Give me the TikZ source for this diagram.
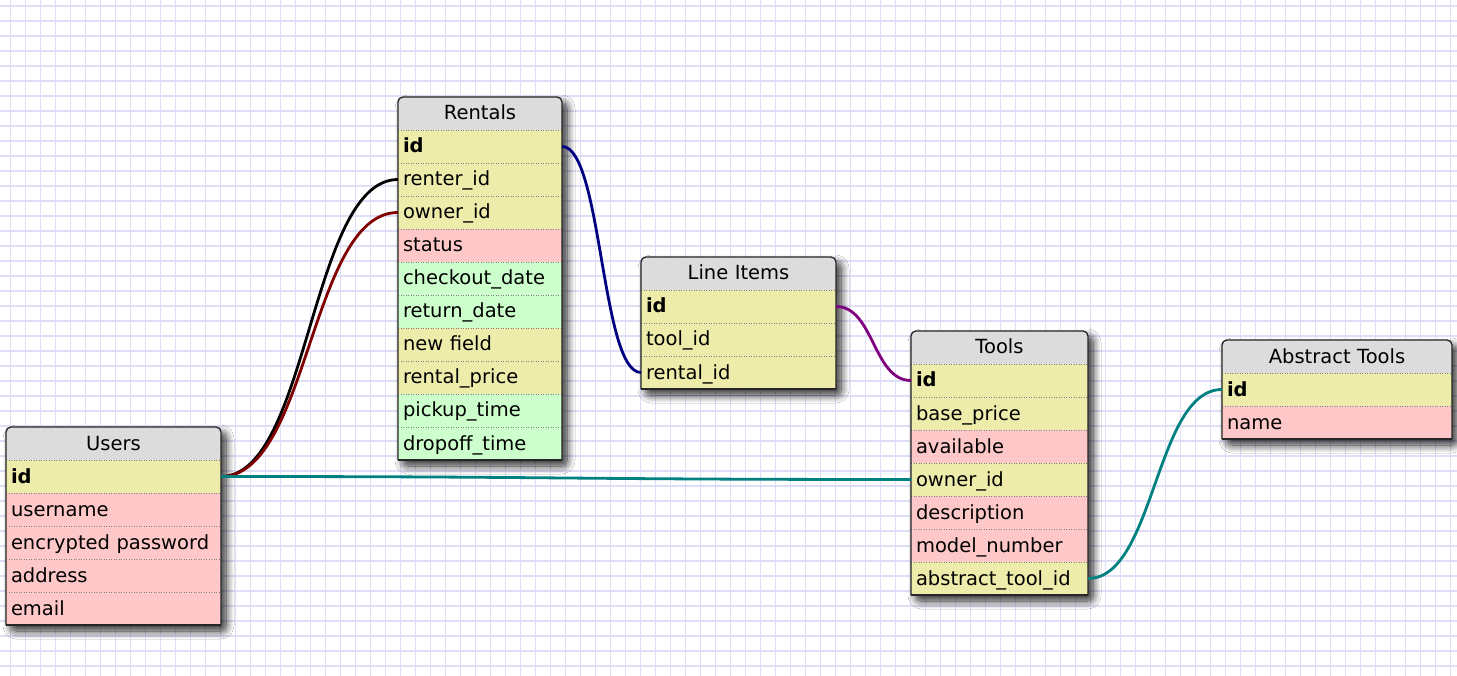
\documentclass[tikz,border=0pt]{standalone}
\usepackage{fontspec}
\setmainfont{DejaVu Sans}
\usetikzlibrary{shadows.blur}

\definecolor{headcol}{HTML}{DCDCDC}
\definecolor{keycol}{HTML}{EEECAA}
\definecolor{pinkcol}{HTML}{FFC8C8}
\definecolor{greencol}{HTML}{CCFFCC}
\definecolor{gridcol}{HTML}{DEDEF6}
\definecolor{fkred}{HTML}{800000}
\definecolor{fknavy}{HTML}{000080}
\definecolor{fkpurple}{HTML}{800080}
\definecolor{fkteal}{HTML}{008080}

\begin{document}
\begin{tikzpicture}[x=1pt,y=-1pt,
    font=\fontsize{19.5pt}{22pt}\selectfont,
    tablebase/.style={fill=headcol, rounded corners=5pt,
      blur shadow={shadow xshift=5pt, shadow yshift=-6pt,
        shadow blur radius=8pt, shadow blur steps=14, shadow opacity=85}},
    cell/.style={anchor=north west, minimum height=33pt, inner xsep=5pt,
      inner ysep=0pt, outer sep=0pt, text height=15pt, text depth=2pt},
    headbox/.style={cell, align=center},
    rowbox/.style={cell, fill=#1, align=left},
    sepline/.style={gray, line width=0.8pt, dash pattern=on 1pt off 1.5pt},
    frame/.style={black!85, line width=1.3pt},
    link/.style={line width=2.8pt}]
  \useasboundingbox (0,0) rectangle (1457,676);
  \fill[white] (0,0) rectangle (1457,676);

  % grid paper
  \foreach \gx in {0,...,96}
    \draw[gridcol, line width=1.5pt] (10.7+15*\gx,0) -- (10.7+15*\gx,676);
  \foreach \gy in {0,...,44}
    \draw[gridcol, line width=1.5pt] (0,6+15*\gy) -- (1457,6+15*\gy);

  % Users
  \fill[tablebase] (6,427) rectangle (221,625);
  \begin{scope}[every node/.append style={text width=205pt}]
    \node[headbox] (users) at (6,427) {Users};
    \foreach \f/\c [count=\i] in {{\bfseries id}/keycol, username/pinkcol,
        encrypted password/pinkcol, address/pinkcol, email/pinkcol}
      \node[rowbox=\c] (users-\i) at (6,427+33*\i) {\f};
  \end{scope}
  \foreach \i in {1,...,5}
    \draw[sepline] (users-\i.north west) -- (users-\i.north east);
  \draw[frame, rounded corners=5pt]
    (users-5.south west) -- (users.north west) -- (users.north east) -- (users-5.south east);
  \draw[frame] (users-5.south west) -- (users-5.south east);

  % Rentals
  \fill[tablebase] (398,97) rectangle (562,460);
  \begin{scope}[every node/.append style={text width=154pt}]
    \node[headbox] (rentals) at (398,97) {Rentals};
    \foreach \f/\c [count=\i] in {{\bfseries id}/keycol, renter\_id/keycol,
        owner\_id/keycol, status/pinkcol, checkout\_date/greencol,
        return\_date/greencol, new field/keycol, rental\_price/keycol,
        pickup\_time/greencol, dropoff\_time/greencol}
      \node[rowbox=\c] (rentals-\i) at (398,97+33*\i) {\f};
  \end{scope}
  \foreach \i in {1,...,10}
    \draw[sepline] (rentals-\i.north west) -- (rentals-\i.north east);
  \draw[frame, rounded corners=5pt]
    (rentals-10.south west) -- (rentals.north west) -- (rentals.north east) -- (rentals-10.south east);
  \draw[frame] (rentals-10.south west) -- (rentals-10.south east);

  % Line Items
  \fill[tablebase] (641,257) rectangle (836,389);
  \begin{scope}[every node/.append style={text width=185pt}]
    \node[headbox] (items) at (641,257) {Line Items};
    \foreach \f/\c [count=\i] in {{\bfseries id}/keycol, tool\_id/keycol,
        rental\_id/keycol}
      \node[rowbox=\c] (items-\i) at (641,257+33*\i) {\f};
  \end{scope}
  \foreach \i in {1,...,3}
    \draw[sepline] (items-\i.north west) -- (items-\i.north east);
  \draw[frame, rounded corners=5pt]
    (items-3.south west) -- (items.north west) -- (items.north east) -- (items-3.south east);
  \draw[frame] (items-3.south west) -- (items-3.south east);

  % Tools
  \fill[tablebase] (911,331) rectangle (1088,595);
  \begin{scope}[every node/.append style={text width=167pt}]
    \node[headbox] (tools) at (911,331) {Tools};
    \foreach \f/\c [count=\i] in {{\bfseries id}/keycol, base\_price/keycol,
        available/pinkcol, owner\_id/keycol, description/pinkcol,
        model\_number/pinkcol, abstract\_tool\_id/keycol}
      \node[rowbox=\c] (tools-\i) at (911,331+33*\i) {\f};
  \end{scope}
  \foreach \i in {1,...,7}
    \draw[sepline] (tools-\i.north west) -- (tools-\i.north east);
  \draw[frame, rounded corners=5pt]
    (tools-7.south west) -- (tools.north west) -- (tools.north east) -- (tools-7.south east);
  \draw[frame] (tools-7.south west) -- (tools-7.south east);

  % Abstract Tools
  \fill[tablebase] (1222,340) rectangle (1452,439);
  \begin{scope}[every node/.append style={text width=220pt}]
    \node[headbox] (abstract) at (1222,340) {Abstract Tools};
    \foreach \f/\c [count=\i] in {{\bfseries id}/keycol, name/pinkcol}
      \node[rowbox=\c] (abstract-\i) at (1222,340+33*\i) {\f};
  \end{scope}
  \foreach \i in {1,...,2}
    \draw[sepline] (abstract-\i.north west) -- (abstract-\i.north east);
  \draw[frame, rounded corners=5pt]
    (abstract-2.south west) -- (abstract.north west) -- (abstract.north east) -- (abstract-2.south east);
  \draw[frame] (abstract-2.south west) -- (abstract-2.south east);

  % relations
  \draw[link, black] (users-1.east) .. controls +(88,0) and +(-88,0) .. (rentals-2.west);
  \draw[link, fkred] (users-1.east) .. controls +(88,0) and +(-88,0) .. (rentals-3.west);
  \draw[link, fkteal] (users-1.east) .. controls +(345,0) and +(-345,0) .. (tools-4.west);
  \draw[link, fknavy] (rentals-1.east) .. controls +(40,0) and +(-40,0) .. (items-3.west);
  \draw[link, fkpurple] (items-1.east) .. controls +(38,0) and +(-38,0) .. (tools-1.west);
  \draw[link, fkteal] (tools-7.east) .. controls +(67,0) and +(-67,0) .. (abstract-1.west);
\end{tikzpicture}
\end{document}
